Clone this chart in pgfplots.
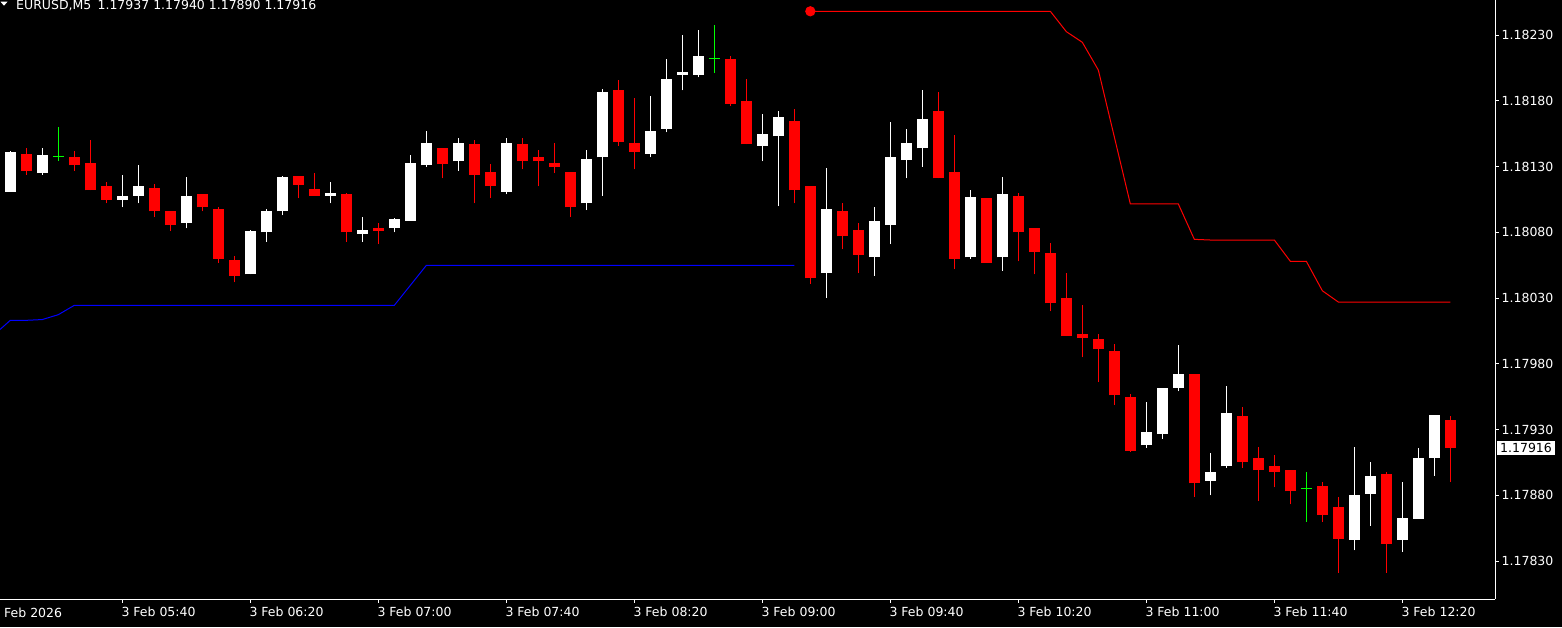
\documentclass[border=0pt]{standalone}
\usepackage{pgfplots}
\pgfplotsset{compat=1.18}
\usepackage{pgfplotstable}
\usepackage{fontspec}
\setmainfont{DejaVu Sans}

% EURUSD M5 candles, bar index k (k=7 is 3 Feb 05:40)
\pgfplotstableread{
k O H L C
0 1.18111 1.18142 1.18111 1.18141
2 1.18125 1.18144 1.18124 1.18139
7 1.18105 1.18124 1.18099 1.18108
8 1.18108 1.18131 1.18102 1.18115
11 1.18087 1.18122 1.18083 1.18108
15 1.18048 1.18082 1.18048 1.18081
16 1.18080 1.18098 1.18073 1.18096
17 1.18096 1.18123 1.18093 1.18122
20 1.18108 1.18118 1.18102 1.18110
22 1.18079 1.18092 1.18073 1.18082
24 1.18083 1.18091 1.18080 1.18090
25 1.18089 1.18139 1.18089 1.18133
26 1.18131 1.18157 1.18130 1.18148
28 1.18134 1.18152 1.18127 1.18148
31 1.18111 1.18152 1.18109 1.18148
36 1.18102 1.18143 1.18097 1.18136
37 1.18137 1.18189 1.18108 1.18187
40 1.18140 1.18184 1.18137 1.18157
41 1.18159 1.18212 1.18156 1.18197
42 1.18200 1.18230 1.18188 1.18202
43 1.18200 1.18234 1.18198 1.18214
47 1.18146 1.18170 1.18134 1.18155
48 1.18153 1.18172 1.18100 1.18168
51 1.18049 1.18129 1.18030 1.18098
54 1.18061 1.18099 1.18047 1.18089
55 1.18086 1.18164 1.18071 1.18137
56 1.18135 1.18159 1.18121 1.18148
57 1.18144 1.18188 1.18130 1.18166
60 1.18061 1.18112 1.18060 1.18107
62 1.18061 1.18122 1.18051 1.18109
71 1.17918 1.17951 1.17916 1.17928
72 1.17927 1.17962 1.17923 1.17962
73 1.17962 1.17994 1.17959 1.17972
75 1.17891 1.17912 1.17880 1.17898
76 1.17902 1.17963 1.17901 1.17943
84 1.17846 1.17917 1.17838 1.17880
85 1.17881 1.17905 1.17857 1.17895
87 1.17846 1.17890 1.17837 1.17863
88 1.17862 1.17916 1.17862 1.17908
89 1.17908 1.17941 1.17895 1.17941
}\bull

\pgfplotstableread{
k O H L C
1 1.18140 1.18144 1.18124 1.18127
4 1.18137 1.18142 1.18127 1.18131
5 1.18133 1.18150 1.18112 1.18112
6 1.18115 1.18118 1.18102 1.18105
9 1.18114 1.18117 1.18092 1.18096
10 1.18096 1.18096 1.18081 1.18086
12 1.18109 1.18109 1.18096 1.18099
13 1.18098 1.18099 1.18057 1.18060
14 1.18059 1.18062 1.18042 1.18047
18 1.18123 1.18123 1.18106 1.18116
19 1.18113 1.18125 1.18108 1.18108
21 1.18109 1.18110 1.18073 1.18080
23 1.18083 1.18087 1.18071 1.18081
27 1.18144 1.18144 1.18121 1.18132
29 1.18147 1.18150 1.18102 1.18124
30 1.18126 1.18132 1.18106 1.18115
32 1.18147 1.18152 1.18128 1.18134
33 1.18137 1.18143 1.18115 1.18134
34 1.18133 1.18148 1.18125 1.18130
35 1.18126 1.18126 1.18092 1.18099
38 1.18188 1.18196 1.18146 1.18149
39 1.18148 1.18182 1.18128 1.18141
45 1.18212 1.18214 1.18176 1.18178
46 1.18180 1.18197 1.18147 1.18147
49 1.18165 1.18174 1.18102 1.18112
50 1.18115 1.18115 1.18041 1.18045
52 1.18096 1.18102 1.18067 1.18077
53 1.18082 1.18087 1.18049 1.18063
58 1.18172 1.18187 1.18121 1.18121
59 1.18126 1.18154 1.18052 1.18060
61 1.18106 1.18106 1.18057 1.18057
63 1.18108 1.18110 1.18058 1.18080
64 1.18083 1.18083 1.18048 1.18065
65 1.18064 1.18072 1.18020 1.18026
66 1.18030 1.18049 1.18001 1.18001
67 1.18003 1.18025 1.17985 1.18000
68 1.17999 1.18003 1.17966 1.17991
69 1.17990 1.17995 1.17949 1.17956
70 1.17955 1.17957 1.17913 1.17914
74 1.17972 1.17972 1.17879 1.17889
77 1.17940 1.17947 1.17901 1.17905
78 1.17908 1.17917 1.17876 1.17899
79 1.17902 1.17911 1.17886 1.17898
80 1.17899 1.17899 1.17873 1.17883
82 1.17887 1.17890 1.17860 1.17865
83 1.17871 1.17879 1.17821 1.17847
86 1.17896 1.17898 1.17821 1.17843
90 1.17937 1.17940 1.17890 1.17916
}\bear

\pgfplotstableread{
k O H L C
3 1.18138 1.18160 1.18134 1.18138
44 1.18212 1.18238 1.18201 1.18212
81 1.17885 1.17898 1.17860 1.17885
}\doji

% support (blue) and resistance (red) lines
\pgfplotstableread{
k y
-1 1.180023
0 1.180131
1 1.180131
2 1.180137
3 1.180174
4 1.180245
24 1.180245
25 1.180397
26 1.180549
49 1.180549
}\support

\pgfplotstableread{
k y
50 1.182482
65 1.182482
66 1.182327
67 1.182246
68 1.182035
69 1.181526
70 1.181016
73 1.181016
74 1.180747
75 1.180742
79 1.180742
80 1.180580
81 1.180580
82 1.180356
83 1.180270
90 1.180270
}\resist

\begin{document}
\begin{tikzpicture}[font=\fontsize{12.5}{15}\selectfont]
\fill[black] (0pt,0pt) rectangle (1562pt,627pt);
\useasboundingbox (0pt,0pt) rectangle (1562pt,627pt);
\begin{axis}[
    at={(0pt,28pt)}, anchor=south west,
    scale only axis, width=1495pt, height=599pt,
    xmin=-0.644, xmax=92.79,
    ymin=1.178011, ymax=1.182568,
    axis x line*=bottom, axis y line*=right,
    axis line style={white, line width=1pt},
    tick align=outside, major tick length=3.5pt,
    tick style={white, line width=1pt},
    xtick={7,15,23,31,39,47,55,63,71,79,87},
    xticklabels={3 Feb 05:40,3 Feb 06:20,3 Feb 07:00,3 Feb 07:40,3 Feb 08:20,3 Feb 09:00,3 Feb 09:40,3 Feb 10:20,3 Feb 11:00,3 Feb 11:40,3 Feb 12:20},
    xticklabel style={white, anchor=north west, inner sep=0pt, xshift=-1pt},
    ytick={1.17830,1.17880,1.17930,1.17980,1.18030,1.18080,1.18130,1.18180,1.18230},
    scaled y ticks=false,
    yticklabel style={white, anchor=west, inner sep=0pt,
        /pgf/number format/fixed, /pgf/number format/fixed zerofill,
        /pgf/number format/precision=5, /pgf/number format/assume math mode=true},
    xticklabel shift=4.5pt, yticklabel shift=3pt,
    every axis plot/.append style={line width=1pt},
    wick/.style={draw=none, mark=none, error bars/.cd, y dir=plus, y explicit,
        error mark=none, error bar style={draw=#1, line width=1pt}},
    body/.style={draw=none, mark=none, error bars/.cd, y dir=plus, y explicit,
        error mark=none, error bar style={draw=#1, line width=11pt}},
]
% wicks
\addplot[wick=white] table[x=k, y=L, y error plus expr=\thisrow{H}-\thisrow{L}] {\bull};
\addplot[wick=red] table[x=k, y=L, y error plus expr=\thisrow{H}-\thisrow{L}] {\bear};
% bodies
\addplot[body=white] table[x=k, y=O, y error plus expr=\thisrow{C}-\thisrow{O}] {\bull};
\addplot[body=red] table[x=k, y=C, y error plus expr=\thisrow{O}-\thisrow{C}] {\bear};
% dojis (green crosses)
\addplot[draw=none, mark=none, error bars/.cd, y dir=both, y explicit,
    x dir=both, x fixed=0.33, error mark=none, error bar style={draw=green, line width=1pt}]
    table[x=k, y=C, y error plus expr=\thisrow{H}-\thisrow{C}, y error minus expr=\thisrow{C}-\thisrow{L}] {\doji};
% levels
\addplot[blue, no marks] table[x=k, y=y] {\support};
\addplot[red, no marks] table[x=k, y=y] {\resist};
\addplot[red, only marks, mark=*, mark size=4.6pt] coordinates {(50,1.182482)};
\coordinate (cp) at (axis cs:92.79,1.17916);
\end{axis}
\node[fill=white, text=black, inner xsep=3pt, inner ysep=2pt, anchor=west] at ([xshift=2pt]cp) {1.17916};
\node[white, anchor=base west, inner sep=0pt] at (4pt,10pt) {Feb 2026};
\fill[white] (0.5pt,625.3pt) -- (7.5pt,625.3pt) -- (4pt,621.3pt) -- cycle;
\node[white, anchor=base west, inner sep=0pt] at (16pt,617pt) {EURUSD,M5\hspace{0.5em}1.17937 1.17940 1.17890 1.17916};
\end{tikzpicture}
\end{document}
